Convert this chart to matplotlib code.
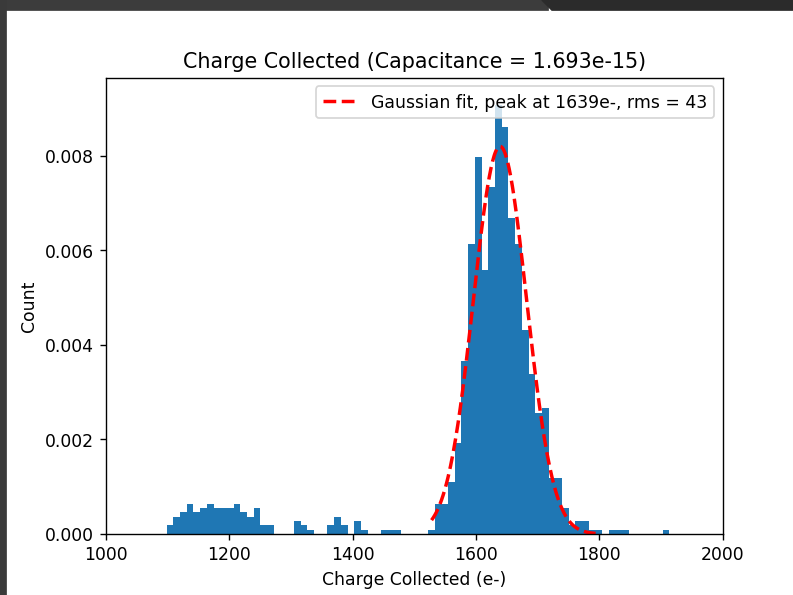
import numpy as np
from matplotlib import pyplot as plt
from matplotlib.patches import Rectangle, Polygon

# histogram of collected charge, 75 equal bins between the min and max event
bin_lo = 1098.4
bin_hi = 1913.4
counts = [
    2, 4, 5, 7, 5, 6, 7, 6, 6, 6, 7, 5, 4, 6, 2, 2,      # low-charge cluster
    0, 0, 0, 3, 2, 1, 0, 0, 2, 4, 2, 0, 3, 1, 0, 0,
    1, 1, 1, 0, 0, 0, 0,
    1, 7, 7, 12, 21, 40, 67, 87, 61, 80, 99, 94, 73,      # main peak
    67, 47, 37, 28, 29, 13, 13, 6, 2, 3, 3, 1, 1, 0,
    1, 1, 1, 0, 0, 0, 0, 0, 1,
]

# gaussian fit to the peak
fit_mean = 1639
fit_rms = 43
fit_amp = 0.0082
fit_lo = 1528
fit_hi = 1794
capacitance = '1.693e-15'

xticks = [1000, 1200, 1400, 1600, 1800, 2000]
yticks = [0.000, 0.002, 0.004, 0.006, 0.008]


edges = np.linspace(bin_lo, bin_hi, len(counts) + 1)
centers = 0.5 * (edges[:-1] + edges[1:])

fig = plt.figure(figsize=(6.4, 4.8), dpi=124)
ax = fig.add_axes([0.1335, 0.1025, 0.7771, 0.7664])

ax.hist(centers, bins=edges, weights=counts, density=True)

xfit = np.linspace(fit_lo, fit_hi, 200)
yfit = fit_amp * np.exp(-0.5 * ((xfit - fit_mean) / fit_rms) ** 2)
ax.plot(xfit, yfit, 'r--', linewidth=2,
        label='Gaussian fit, peak at %de-, rms = %d' % (fit_mean, fit_rms))

ax.set_xlim(1000, 2000)
ax.set_ylim(0, 0.00965)
ax.set_xticks(xticks)
ax.set_yticks(yticks)
ax.set_title('Charge Collected (Capacitance = %s)' % capacitance)
ax.set_xlabel('Charge Collected (e-)')
ax.set_ylabel('Count')
ax.legend(loc='upper right')

# dark window edges around the inline figure
band = 10 / 595
fig.patches.append(Rectangle((0, 1 - band), 548 / 794, band,
                             transform=fig.transFigure, color='#3c3c3c', zorder=10))
fig.patches.append(Polygon([(542 / 794, 1), (1, 1), (1, 1 - band), (552 / 794, 1 - band)],
                           closed=True, transform=fig.transFigure, color='#2b2b2b', zorder=10))
fig.patches.append(Rectangle((0, 0), 6 / 794, 1,
                             transform=fig.transFigure, color='#3a3a3a', zorder=10))

fig.savefig('out.png', dpi=124)
